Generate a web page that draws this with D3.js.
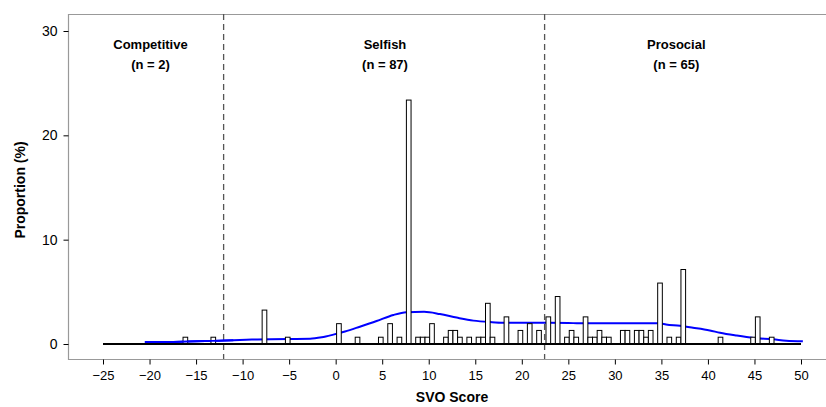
<!DOCTYPE html>
<html>
<head>
<meta charset="utf-8">
<script src="https://cdn.jsdelivr.net/npm/d3@7"></script>
<style>
  html, body { margin: 0; padding: 0; background: #fff; }
  svg { display: block; font-family: "Liberation Sans", Arial, sans-serif; }
</style>
</head>
<body>
<svg id="chart" width="826" height="407"></svg>
<script>
// ---- data ----
const barScores = [-16.15, -13.15, -7.65, -5.15, 0.35, 2.35, 4.85, 5.85, 6.85, 7.85,
  8.85, 9.35, 9.85, 10.35, 11.85, 12.35, 12.85, 13.35, 14.35, 15.35, 15.85, 16.35, 16.85,
  18.35, 19.85, 20.85, 21.85, 22.85, 23.85, 24.85, 25.35, 25.85, 26.85, 27.35, 27.85,
  28.35, 28.85, 29.35, 30.85, 31.35, 32.35, 32.85, 33.35, 33.85, 34.85, 35.85, 36.85,
  37.35, 41.35, 44.85, 45.35, 46.85];
const barProportions = [0.65, 0.65, 3.25, 0.65, 1.95, 0.65, 0.65, 1.95, 0.65, 23.38,
  0.65, 0.65, 0.65, 1.95, 0.65, 1.30, 1.30, 0.65, 0.65, 0.65, 0.65, 3.90, 0.65,
  2.60, 1.30, 1.95, 1.30, 2.60, 4.55, 0.65, 1.30, 0.65, 2.60, 0.65, 0.65,
  1.30, 0.65, 0.65, 1.30, 1.30, 1.30, 1.30, 0.65, 1.30, 5.84, 0.65, 0.65,
  7.14, 0.65, 0.65, 2.60, 0.65];
const densityX = [-20.5, -18, -16, -14, -12.5, -11, -9, -7, -5, -2.75, -1.5, -0.25, 1, 2.6,
  4.4, 6.2, 7.6, 9.5, 11.2, 13, 14.8, 16.6, 18, 20, 23, 25, 26.2, 30, 34.8, 35.5, 37,
  38.4, 40.2, 41.3, 43, 44.9, 47, 48.4, 50.2];
const densityY = [0.19, 0.2, 0.24, 0.28, 0.32, 0.37, 0.42, 0.46, 0.48, 0.5, 0.64, 0.9, 1.2, 1.66,
  2.2, 2.78, 3.04, 3.08, 2.87, 2.53, 2.24, 2.1, 2.04, 2.04, 2.04, 2.02, 1.98, 1.98, 1.98, 1.88, 1.74,
  1.56, 1.3, 1.08, 0.82, 0.58, 0.45, 0.32, 0.26];
const cutoffs = [-12.04, 22.45];
const groupNames = ["Competitive", "Selfish", "Prosocial"];
const groupCounts = ["(n = 2)", "(n = 87)", "(n = 65)"];
const groupLabelX = [-19.9, 5.3, 36.6];
const xTicks = [-25, -20, -15, -10, -5, 0, 5, 10, 15, 20, 25, 30, 35, 40, 45, 50];
const yTicks = [0, 10, 20, 30];

// ---- chart ----
const svg = d3.select("#chart");
const x = d3.scaleLinear().domain([-25, 50]).range([103, 801]);
const y = d3.scaleLinear().domain([0, 30]).range([344, 31]);
const frame = { left: 68, top: 14, bottom: 359, right: 830 };

// frame
svg.append("path")
  .attr("d", `M${frame.right},${frame.top + 0.5}H${frame.left + 0.5}V${frame.bottom + 0.5}H${frame.right}`)
  .attr("fill", "none").attr("stroke", "#999").attr("stroke-width", 1.2);

// x axis
const xAxis = d3.axisBottom(x).tickValues(xTicks).tickSize(5).tickPadding(6).tickFormat(d3.format("d"));
const gx = svg.append("g").attr("transform", `translate(0,${frame.bottom + 0.5})`).call(xAxis);
gx.select(".domain").remove();
gx.selectAll("text").attr("font-size", 13).attr("fill", "#000")
  .attr("font-family", "'Liberation Sans', Arial, sans-serif");
gx.selectAll("line").attr("stroke", "#000");

// y axis
const yAxis = d3.axisLeft(y).tickValues(yTicks).tickSize(5).tickPadding(6);
const gy = svg.append("g").attr("transform", `translate(${frame.left + 0.5},0)`).call(yAxis);
gy.select(".domain").remove();
gy.selectAll("text").attr("font-size", 14).attr("fill", "#000")
  .attr("font-family", "'Liberation Sans', Arial, sans-serif");
gy.selectAll("line").attr("stroke", "#000");

// axis titles
svg.append("text").attr("x", 452).attr("y", 402).attr("text-anchor", "middle")
  .attr("font-size", 14).attr("font-weight", "bold").text("SVO Score");
svg.append("text").attr("transform", "translate(25,190) rotate(-90)").attr("text-anchor", "middle")
  .attr("font-size", 14).attr("font-weight", "bold").text("Proportion (%)");

// dashed cutoffs
svg.selectAll(".cut").data(cutoffs).join("line").attr("class", "cut")
  .attr("x1", d => x(d)).attr("x2", d => x(d))
  .attr("y1", frame.top).attr("y2", frame.bottom)
  .attr("stroke", "#555").attr("stroke-width", 1.3).attr("stroke-dasharray", "6,4");

// density line
const dens = densityX.map((d, i) => [d, densityY[i]]);
svg.append("path").datum(dens)
  .attr("d", d3.line().x(d => x(d[0])).y(d => y(d[1])).curve(d3.curveMonotoneX))
  .attr("fill", "none").attr("stroke", "#0000ff").attr("stroke-width", 2);

// bars
const bw = 0.5;
svg.selectAll(".bar").data(barScores.map((d, i) => [d, barProportions[i]])).join("rect")
  .attr("class", "bar")
  .attr("x", d => x(d[0] - bw / 2))
  .attr("width", d => x(d[0] + bw / 2) - x(d[0] - bw / 2))
  .attr("y", d => y(d[1]))
  .attr("height", d => y(0) - y(d[1]))
  .attr("fill", "#fff").attr("stroke", "#000").attr("stroke-width", 1);

// baseline
svg.append("line").attr("x1", x(-25)).attr("x2", x(50)).attr("y1", y(0)).attr("y2", y(0))
  .attr("stroke", "#000").attr("stroke-width", 2);
// blue density over baseline region near zero
svg.append("path").datum(dens.filter(d => d[0] < -10))
  .attr("d", d3.line().x(d => x(d[0])).y(d => y(d[1])).curve(d3.curveMonotoneX))
  .attr("fill", "none").attr("stroke", "#0000ff").attr("stroke-width", 2);

// group labels
groupNames.forEach((g, i) => {
  svg.append("text").attr("x", x(groupLabelX[i])).attr("y", 49).attr("text-anchor", "middle")
    .attr("font-size", 13).attr("font-weight", "bold").text(g);
  svg.append("text").attr("x", x(groupLabelX[i])).attr("y", 69).attr("text-anchor", "middle")
    .attr("font-size", 13).attr("font-weight", "bold").text(groupCounts[i]);
});
</script>
</body>
</html>
